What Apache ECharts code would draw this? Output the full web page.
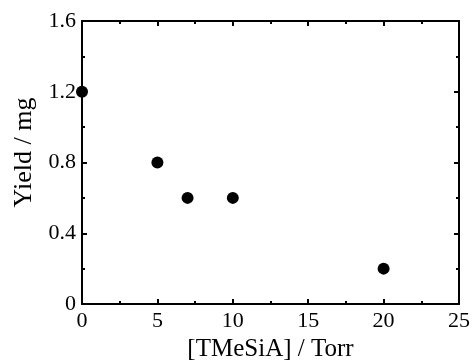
<!DOCTYPE html>
<html>
<head>
<meta charset="utf-8">
<script src="https://cdn.jsdelivr.net/npm/echarts@6/dist/echarts.min.js"></script>
<style>
  html, body { margin: 0; padding: 0; background: #fff; }
  #chart { width: 473px; height: 362px; }
</style>
</head>
<body>
<div id="chart"></div>
<script>
const pressure = [0, 5, 7, 10, 20];
const yieldMg = [1.2, 0.8, 0.6, 0.6, 0.2];
const xTicks = [0, 5, 10, 15, 20, 25];
const yTicks = [0, 0.4, 0.8, 1.2, 1.6];

const font = 'Liberation Serif';
const points = pressure.map((p, i) => [p, yieldMg[i]]);

const baseAxis = {
    axisLine: { show: true, onZero: false, lineStyle: { color: '#000', width: 2 } },
    axisTick: { show: true, inside: true, length: 5, lineStyle: { color: '#000', width: 2 } },
    minorTick: { show: true, splitNumber: 2, length: 3, lineStyle: { color: '#000', width: 2 } },
    splitLine: { show: false }
};

const xBase = Object.assign({}, baseAxis, {
    type: 'value', min: xTicks[0], max: xTicks[xTicks.length - 1], interval: 5
});
const yBase = Object.assign({}, baseAxis, {
    type: 'value', min: yTicks[0], max: yTicks[yTicks.length - 1], interval: 0.4
});

const option = {
    animation: false,
    grid: { left: 82, top: 21, right: 14, bottom: 58, outerBoundsMode: 'none' },
    xAxis: [
        Object.assign({}, xBase, {
            position: 'bottom',
            name: '[TMeSiA] / Torr',
            nameLocation: 'middle',
            nameGap: 32,
            nameTextStyle: { fontFamily: font, fontSize: 25, color: '#000' },
            axisLabel: { fontFamily: font, fontSize: 22, color: '#000', margin: 6 }
        }),
        Object.assign({}, xBase, { position: 'top', axisLabel: { show: false } })
    ],
    yAxis: [
        Object.assign({}, yBase, {
            position: 'left',
            name: 'Yield / mg',
            nameLocation: 'middle',
            nameGap: 45,
            nameTextStyle: { fontFamily: font, fontSize: 26, color: '#000', padding: [0, 0, 0, 20] },
            axisLabel: { fontFamily: font, fontSize: 22, color: '#000', margin: 6,
                formatter: v => v === 0 ? '0' : v.toFixed(1) }
        }),
        Object.assign({}, yBase, { position: 'right', axisLabel: { show: false } })
    ],
    series: [{
        type: 'scatter',
        data: points,
        symbol: 'circle',
        symbolSize: 12,
        itemStyle: { color: '#000', opacity: 1 },
        clip: false
    }]
};

const chart = echarts.init(document.getElementById('chart'));
chart.setOption(option);
</script>
</body>
</html>
